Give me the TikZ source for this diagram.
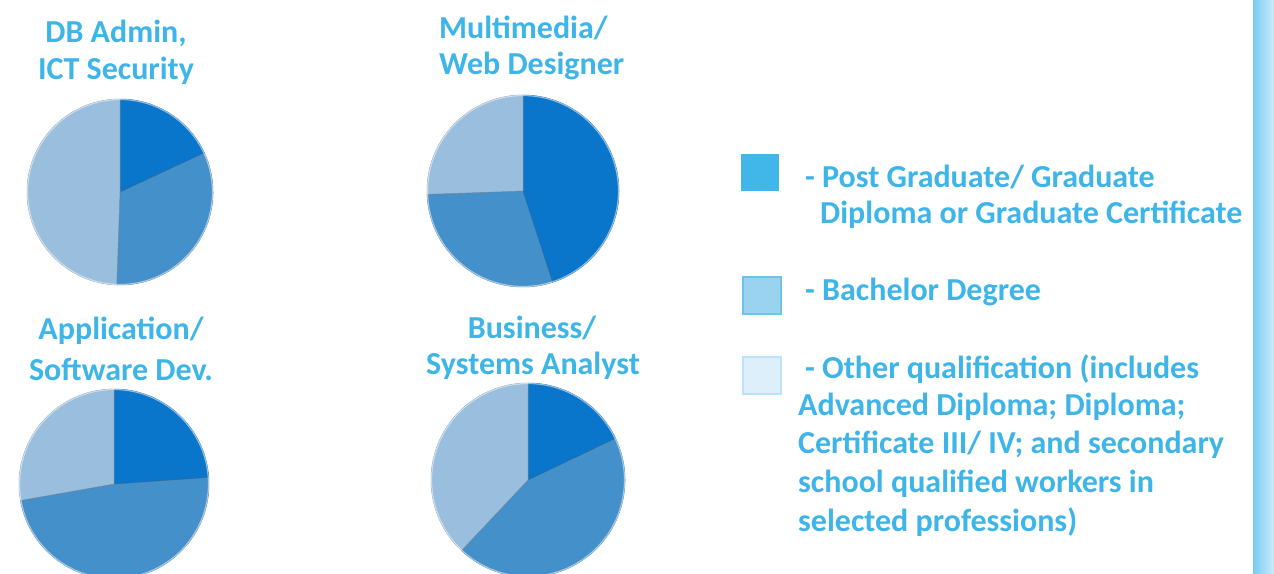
\documentclass[tikz,border=0pt]{standalone}
\usepackage{fontspec}
\setmainfont{Carlito}
\usetikzlibrary{shadings}
\definecolor{txt}{HTML}{3DB5E8}
\definecolor{pdark}{HTML}{0A76CB}
\definecolor{pmed}{HTML}{4490CA}
\definecolor{plight}{HTML}{9ABFDE}
\definecolor{lg1}{HTML}{41B6E9}
\definecolor{lg2}{HTML}{9AD3F0}
\definecolor{lg2b}{HTML}{6CC4EC}
\definecolor{lg3}{HTML}{DDEFFA}
\definecolor{lg3b}{HTML}{BEE2F6}
\definecolor{barl}{HTML}{78CCF0}
\definecolor{barr}{HTML}{CDEBF9}
\tikzset{
  lbl/.style={text=txt,font=\fontsize{32}{38}\selectfont\bfseries,inner sep=0pt},
  ttl/.style={lbl,anchor=center},
  ttlw/.style={lbl,anchor=west},
  leg/.style={lbl,anchor=west},
  slice/.style={draw=#1!75!black,line width=0.5pt,fill=#1},
  rim/.style={draw=white,line width=1.2pt,opacity=0.55}
}
\newcommand{\pieslice}[5]{% center, radius, start, end, color
  \filldraw[slice=#5] (#1) -- ++(#3:#2) arc[start angle=#3,end angle=#4,radius=#2] -- cycle;}
\begin{document}
\begin{tikzpicture}[x=1pt,y=1pt]
\useasboundingbox (0,0) rectangle (1274,-573);
\clip (0,0) rectangle (1274,-573);
\fill[white] (0,0) rectangle (1274,-573);
% right bar
\shade[left color=barl,right color=barr] (1253,0) rectangle (1274,-573);

% pie 1: DB Admin
\coordinate (c1) at (120,-192);
\pieslice{c1}{93}{90}{25}{pdark}
\pieslice{c1}{93}{25}{-92}{pmed}
\pieslice{c1}{93}{-92}{-270}{plight}
\draw[rim] (c1) circle[radius=92.5];
\node[ttl] (t1a) at (116,-33) {DB Admin,};
\node[ttl] (t1b) at (116,-71) {ICT Security};

% pie 2: Multimedia
\coordinate (c2) at (523,-191);
\pieslice{c2}{96}{90}{-72}{pdark}
\pieslice{c2}{96}{-72}{-178}{pmed}
\pieslice{c2}{96}{182}{90}{plight}
\draw[rim] (c2) circle[radius=95.5];
\node[ttlw] (t2a) at (439,-28) {Multimedia/};
\node[ttlw] (t2b) at (439,-66) {Web Designer};

% pie 3: Application
\coordinate (c3) at (114,-484);
\pieslice{c3}{95}{90}{4}{pdark}
\pieslice{c3}{95}{4}{-170}{pmed}
\pieslice{c3}{95}{190}{90}{plight}
\draw[rim] (c3) circle[radius=94.5];
\node[ttl] (t3a) at (121,-331) {Application/};
\node[ttl] (t3b) at (121,-369) {Software Dev.};

% pie 4: Business
\coordinate (c4) at (528,-480);
\pieslice{c4}{97}{90}{25.5}{pdark}
\pieslice{c4}{97}{25.5}{-133.3}{pmed}
\pieslice{c4}{97}{226.7}{90}{plight}
\draw[rim] (c4) circle[radius=96.5];
\node[ttl] (t4a) at (532,-328) {Business/};
\node[ttl] (t4b) at (533,-366) {Systems Analyst};

% legend
\node[fill=lg1,minimum width=38pt,minimum height=37pt,inner sep=0pt,anchor=north west] (b1) at (741,-154) {};
\node[fill=lg2,draw=lg2b,line width=2pt,minimum width=38pt,minimum height=37pt,inner sep=0pt,anchor=north west] (b2) at (742,-276) {};
\node[fill=lg3,draw=lg3b,line width=2pt,minimum width=38pt,minimum height=37pt,inner sep=0pt,anchor=north west] (b3) at (742,-356) {};

\node[leg] (l1a) at (805,-177) {- Post Graduate/ Graduate};
\node[leg] (l1b) at (820,-215) {Diploma or Graduate Certificate};
\node[leg] (l2) at (805,-292) {- Bachelor Degree};
\node[leg] (l3a) at (805,-369) {- Other qualification (includes};
\node[leg] (l3b) at (798,-407) {Advanced Diploma; Diploma;};
\node[leg] (l3c) at (798,-445) {Certificate III/ IV; and secondary};
\node[leg] (l3d) at (798,-484) {school qualified workers in};
\node[leg] (l3e) at (798,-522) {selected professions)};
\end{tikzpicture}
\end{document}
